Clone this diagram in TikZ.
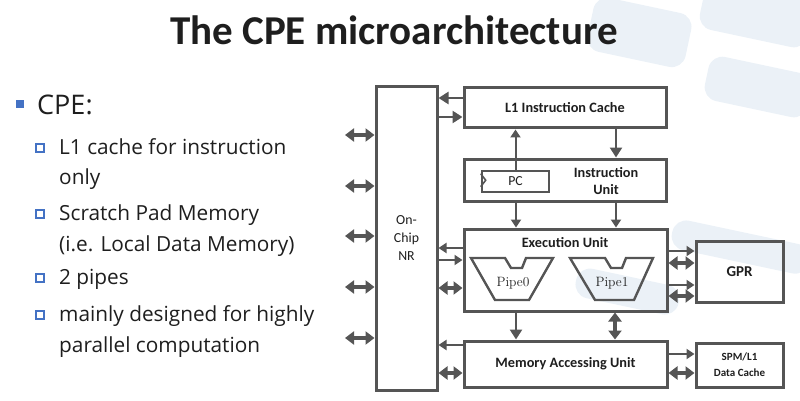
\documentclass[tikz,border=0pt]{standalone}
\usepackage{fontspec}
\newfontfamily\osans{Open Sans}
\newfontfamily\calf{Carlito}
\usetikzlibrary{arrows.meta,calc}
\definecolor{ln}{HTML}{555555}
\definecolor{bl}{HTML}{4472C4}
\definecolor{tx}{HTML}{1E1E1E}
\definecolor{sw}{HTML}{EBF1F7}
\begin{document}
\begin{tikzpicture}[x=1pt,y=-1pt,
  box/.style={draw=ln, line width=3pt, inner sep=0pt},
  lblb/.style={font=\calf\bfseries\fontsize{14.3}{17}\selectfont, text=tx, align=center, inner sep=0pt},
  lblr/.style={font=\calf\fontsize{13.8}{18}\selectfont, text=tx, align=center, inner sep=0pt},
  bul/.style={font=\osans\fontsize{20.8}{24}\selectfont, text=tx, anchor=base west, inner sep=0pt},
  sq/.style={draw=bl, line width=1.6pt, minimum size=7.5pt, inner sep=0pt},
  sarr/.style={draw=ln, line width=2.6pt, -{Triangle[length=10pt,width=12pt]}},
  tarr/.style={draw=ln, line width=2pt, -{Triangle[length=8pt,width=10pt]}},
  darr/.style={draw=ln, line width=3.5pt, {Triangle[length=9pt,width=13pt]}-{Triangle[length=9pt,width=13pt]}},
  pipe/.style={draw=ln, line width=2.4pt, line join=miter},
  pipet/.style={font=\rmfamily\fontsize{13.5}{15}\selectfont, text=tx, inner sep=0pt},
]
\useasboundingbox (0,0) rectangle (800,401);
% faint background swooshes
\begin{scope}
\fill[sw, rounded corners=14pt, rotate around={-12:(640,30)}] (590,5) rectangle (690,60);
\fill[sw, rounded corners=14pt, rotate around={-12:(760,20)}] (700,-10) rectangle (810,40);
\fill[sw, rounded corners=14pt, rotate around={-12:(760,90)}] (705,65) rectangle (810,110);
\fill[sw, rounded corners=14pt, rotate around={-12:(740,250)}] (670,232) rectangle (810,262);
\fill[sw, rounded corners=14pt, rotate around={-12:(620,290)}] (575,275) rectangle (680,305);
\end{scope}

% title
\node[font=\calf\bfseries\fontsize{41}{48}\selectfont, text=tx, inner sep=0pt] (title) at (394,30) {The CPE microarchitecture};

% bullets
\node[fill=bl, minimum size=8pt, inner sep=0pt] (b0) at (20,104) {};
\node[font=\osans\fontsize{27}{30}\selectfont, text=tx, anchor=base west, inner sep=0pt] (t0) at (37,115) {CPE:};
\node[sq] (s1) at (40,148) {};
\node[bul] (t1) at (59,154) {L1 cache for instruction};
\node[bul] (t1b) at (59,184) {only};
\node[sq] (s2) at (40,214) {};
\node[bul] (t2) at (59,220) {Scratch Pad Memory};
\node[bul] (t2b) at (59,251) {(i.e. Local Data Memory)};
\node[sq] (s3) at (40,278) {};
\node[bul] (t3) at (59,284) {2 pipes};
\node[sq] (s4) at (40,315) {};
\node[bul] (t4) at (59,321) {mainly designed for highly};
\node[bul] (t4b) at (59,352) {parallel computation};

% boxes
\node[box, minimum width=61pt, minimum height=303pt, lblr] (nr) at (406.5,238.5) {On-\\Chip\\NR};
\node[box, minimum width=202pt, minimum height=40pt, lblb] (l1) at (565,108) {L1 Instruction Cache};
\node[box, minimum width=202pt, minimum height=42pt] (iu) at (565,180) {};
\node[lblb] (iut) at (606,181) {Instruction\\Unit};
\node[box, line width=2.6pt, minimum width=67pt, minimum height=21pt, lblr] (pc) at (515.5,181.5) {PC};
\draw[ln, line width=1.6pt] (pc.north west) ++(0,4) -- ++(5,6.5) -- ++(-5,6.5);
\node[box, minimum width=203pt, minimum height=82pt] (eu) at (565.5,270) {};
\node[lblb] (eut) at (565,243) {Execution Unit};
\node[box, minimum width=203pt, minimum height=46pt, lblb] (mau) at (565.5,364) {Memory Accessing Unit};
\node[box, minimum width=87pt, minimum height=61pt, font=\calf\bfseries\fontsize{15}{18}\selectfont, text=tx] (gpr) at (739.5,271.5) {GPR};
\node[box, minimum width=87pt, minimum height=44pt, font=\calf\bfseries\fontsize{11}{16}\selectfont, text=tx, align=center] (spm) at (739.5,365) {SPM/L1\\Data Cache};

% pipes
\draw[pipe] (471,258) -- (505,258) -- (511,268) -- (522,268) -- (526,258) -- (553,258) -- (529,300) -- (495,300) -- cycle;
\node[pipet] (p0) at (513,283) {Pipe0};
\draw[pipe] (570,258) -- (605,258) -- (611,268) -- (622,268) -- (626,258) -- (653,258) -- (634,300) -- (595,300) -- cycle;
\node[pipet] (p1) at (612,283) {Pipe1};

% NR left side double arrows
\foreach \y [count=\i] in {135,186,236,287,338} {
  \coordinate (lp\i) at (345,\y);
  \draw[darr] (nr.west |- lp\i) -- (lp\i);
}

% NR <-> L1
\draw[sarr] (l1.west |- 0,98) -- (nr.east |- 0,98);
\draw[sarr] (nr.east |- 0,117) -- (l1.west |- 0,117);
% PC -> L1, L1 -> IU
\draw[tarr] (pc.north) -- (l1.south -| pc.north);
\draw[sarr] (l1.south -| 616,0) -- (iu.north -| 616,0);
% IU -> EU
\draw[tarr] (iu.south -| 516,0) -- (eu.north -| 516,0);
\draw[tarr] (iu.south -| 616,0) -- (eu.north -| 616,0);
% EU <-> NR
\draw[tarr] (eu.west |- 0,248) -- (nr.east |- 0,248);
\draw[tarr] (nr.east |- 0,260) -- (eu.west |- 0,260);
\draw[darr] (nr.east |- 0,288) -- (eu.west |- 0,288);
% MAU <-> NR
\draw[tarr] (mau.west |- 0,345) -- (nr.east |- 0,345);
\draw[darr] (nr.east |- 0,373) -- (mau.west |- 0,373);
% EU -> MAU
\draw[sarr] (eu.south -| 516,0) -- (mau.north -| 516,0);
\draw[darr] (eu.south -| 615,0) -- (mau.north -| 615,0);
% EU <-> GPR
\draw[tarr] (eu.east |- 0,251) -- (gpr.west |- 0,251);
\draw[darr] (eu.east |- 0,263) -- (gpr.west |- 0,263);
\draw[tarr] (eu.east |- 0,285) -- (gpr.west |- 0,285);
\draw[darr] (eu.east |- 0,296) -- (gpr.west |- 0,296);
% MAU <-> SPM
\draw[tarr] (mau.east |- 0,354) -- (spm.west |- 0,354);
\draw[darr] (mau.east |- 0,373) -- (spm.west |- 0,373);
\end{tikzpicture}
\end{document}
